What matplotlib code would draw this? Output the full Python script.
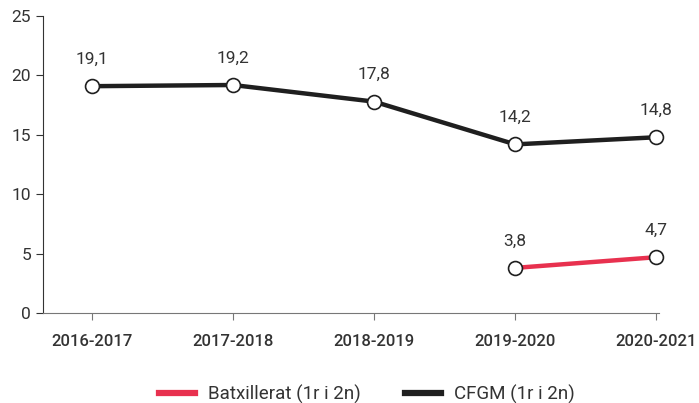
import matplotlib.pyplot as plt

plt.rcParams['font.family'] = ['Roboto', 'DejaVu Sans']

cursos = ["2016-2017", "2017-2018", "2018-2019", "2019-2020", "2020-2021"]
cfgm = [19.1, 19.2, 17.8, 14.2, 14.8]
batx_cursos = ["2019-2020", "2020-2021"]
batx = [3.8, 4.7]

red = "#e8314f"
dark = "#1f1f1f"

fig = plt.figure(figsize=(6.99, 4.03), dpi=100)
ax = fig.add_axes([0.0615, 0.2233, 0.8815, 0.7367])

x_cfgm = [cursos.index(c) for c in cursos]
x_batx = [cursos.index(c) for c in batx_cursos]

ax.plot(x_batx, batx, color=red, lw=3.2, marker="o", ms=10, clip_on=False,
        mfc="white", mec=dark, mew=1.2, label="Batxillerat (1r i 2n)", zorder=3)
ax.plot(x_cfgm, cfgm, color=dark, lw=3.2, marker="o", ms=10, clip_on=False,
        mfc="white", mec=dark, mew=1.2, label="CFGM (1r i 2n)", zorder=3)

for xs, ys in [(x_cfgm, cfgm), (x_batx, batx)]:
    for xi, yi in zip(xs, ys):
        ax.annotate(f"{yi:.1f}".replace(".", ","), (xi, yi), xytext=(0, 14),
                    textcoords="offset points", ha="center", va="bottom",
                    fontsize=12.5, color="#333333")

ax.set_xlim(-0.346, 4.02)
ax.set_ylim(0, 25)
ax.set_yticks([0, 5, 10, 15, 20, 25])
ax.set_xticks(range(len(cursos)))
ax.set_xticklabels(cursos, fontweight="medium")
ax.tick_params(axis="y", labelsize=12.5, labelcolor="#333333", length=5, color="#333333")
ax.tick_params(axis="x", labelsize=12, labelcolor="#333333", length=5,
               color="#777777", pad=10)
ax.spines["top"].set_visible(False)
ax.spines["right"].set_visible(False)
ax.spines["left"].set_color("#333333")
ax.spines["bottom"].set_color("#777777")

leg = fig.legend(loc="lower center", bbox_to_anchor=(0.525, -0.045), ncol=2,
                 frameon=False, fontsize=13.5, handlelength=1.9, handletextpad=0.7,
                 columnspacing=2.4, labelcolor="#333333")
for h in leg.legend_handles:
    h.set_marker("")
    h.set_linewidth(4.5)

fig.savefig("out.png", dpi=100)
